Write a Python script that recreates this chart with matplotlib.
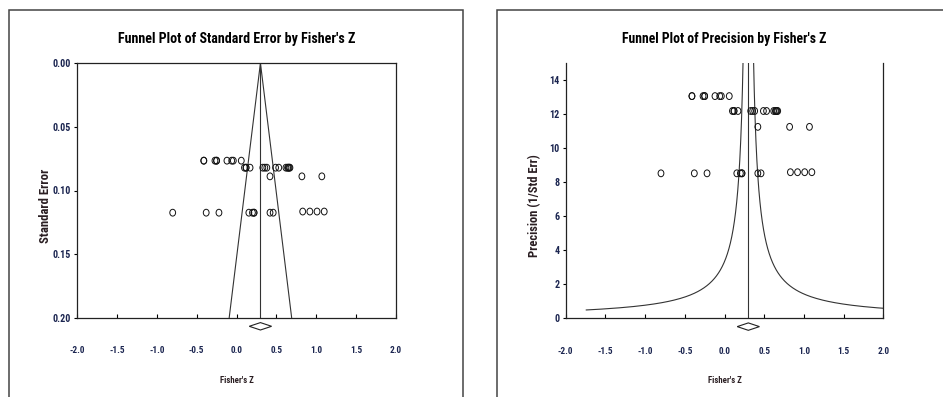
import numpy as np
import matplotlib
matplotlib.use("Agg")
import matplotlib.pyplot as plt
from matplotlib.patches import Rectangle, Polygon
from matplotlib.path import Path
from matplotlib.transforms import Affine2D
from matplotlib import font_manager

# study effects (Fisher's Z) and their standard errors
fisher_z = [-0.41, -0.41, -0.27, -0.25, -0.25, -0.12, -0.06, -0.04, 0.06,
            0.10, 0.12, 0.12, 0.17, 0.33, 0.355, 0.38, 0.49, 0.53, 0.62, 0.64, 0.65, 0.66, 0.67,
            0.42, 0.82, 1.07,
            -0.80, -0.38, -0.22, 0.155, 0.20, 0.22, 0.22, 0.42, 0.46,
            0.83, 0.92, 1.01, 1.10]
std_err = [0.0766] * 9 + [0.0821] * 14 + [0.0889] * 3 + [0.1174] * 9 + [0.1165] * 4
mean_z = 0.30
diamond_half = 0.14
curve_k = 1.0  # half width of precision funnel * precision

x_ticks = [-2.0, -1.5, -1.0, -0.5, 0.0, 0.5, 1.0, 1.5, 2.0]
x_labels = ['-2.0', '-1.5', '-1.0', '-0.5', '0.0', '0.5', '1.0', '1.5', '2.0']
se_ticks = [0.00, 0.05, 0.10, 0.15, 0.20]
se_labels = ['0.00', '0.05', '0.10', '0.15', '0.20']
prec_ticks = [0, 2, 4, 6, 8, 10, 12, 14]

titles = ["Funnel Plot of Standard Error by Fisher's Z", "Funnel Plot of Precision by Fisher's Z"]
ylabels = ['Standard Error', 'Precision (1/Std Err)']

# pick a narrow bold font if there is one
names = set(f.name for f in font_manager.fontManager.ttflist)
fam, stretch = 'Liberation Sans', 'normal'
for nm in ['Liberation Sans Narrow', 'Arial Narrow', 'Roboto Condensed', 'Open Sans Condensed', 'DejaVu Sans Condensed']:
    if nm in names:
        fam = nm
        break
else:
    if any(f.name == 'DejaVu Sans' and f.stretch == 'condensed' for f in font_manager.fontManager.ttflist):
        fam, stretch = 'DejaVu Sans', 'condensed'
plt.rcParams['font.family'] = [fam, 'DejaVu Sans']
plt.rcParams['font.stretch'] = stretch
plt.rcParams['axes.unicode_minus'] = False

tick_col = '#1b2550'
lab_col = '#2a1e22'
line_col = '#333333'

ell = Path.unit_circle().transformed(Affine2D().scale(0.85, 1.0))

fig = plt.figure(figsize=(9.43, 3.97), dpi=100)
W, H = 943.0, 397.0
renderer = fig.canvas.get_renderer()


def size_for(s, target_px, base=10.0):
    t = fig.text(0, 0, s, fontsize=base, fontweight='bold')
    w = t.get_window_extent(renderer).width
    t.remove()
    return base * target_px / w


title_sizes = [size_for(titles[0], 236), size_for(titles[1], 205)]
xt_size = size_for('-2.0', 15.5)
yt_size = size_for('0.00', 18)
yl_sizes = [size_for(ylabels[0], 74), size_for(ylabels[1], 103)]
xl_size = size_for("Fisher's Z", 34)

# panel borders
fig.patches.append(Rectangle((9 / W, -0.1), 454 / W, 1 - 10 / H + 0.1, transform=fig.transFigure,
                             fill=False, ec='#444444', lw=1.1))
fig.patches.append(Rectangle((497 / W, -0.1), 0.5, 1 - 10 / H + 0.1, transform=fig.transFigure,
                             fill=False, ec='#444444', lw=1.1))

ax1 = fig.add_axes([77 / W, 1 - 318 / H, 319 / W, 255 / H])
ax2 = fig.add_axes([565.7 / W, 1 - 318.3 / H, 317.6 / W, 255.3 / H])

z = np.array(fisher_z)
se = np.array(std_err)

# left: standard error funnel
se_line = np.array([0.0, 0.2])
ax1.plot(mean_z - 1.96 * se_line, se_line, color=line_col, lw=0.8)
ax1.plot(mean_z + 1.96 * se_line, se_line, color=line_col, lw=0.8)
ax1.axvline(mean_z, color=line_col, lw=0.8)
ax1.scatter(z, se, marker=ell, s=24, facecolors='none', edgecolors='#111111', linewidths=0.7, zorder=3)
ax1.set_xlim(-2, 2)
ax1.set_ylim(0.2, 0.0)
ax1.set_yticks(se_ticks)
ax1.set_yticklabels(se_labels)

# right: precision funnel
p = np.linspace(0.49, 15.5, 600)
ax2.plot(mean_z - curve_k / p, p, color=line_col, lw=0.8)
ax2.plot(mean_z + curve_k / p, p, color=line_col, lw=0.8)
ax2.axvline(mean_z, color=line_col, lw=0.8)
ax2.scatter(z, 1 / se, marker=ell, s=24, facecolors='none', edgecolors='#111111', linewidths=0.7, zorder=3)
ax2.set_xlim(-2, 2)
ax2.set_ylim(0, 15)
ax2.set_yticks(prec_ticks)
ax2.spines['top'].set_visible(False)

for i, ax in enumerate((ax1, ax2)):
    ax.text(0.5, 1 + 24 / 255.0, titles[i], transform=ax.transAxes, ha='center', va='center',
            fontsize=title_sizes[i], fontweight='bold', color='black')
    ax.set_ylabel(ylabels[i], fontsize=yl_sizes[i], fontweight='bold', color=lab_col)
    ax.yaxis.set_label_coords(-0.079, 0.44)
    ax.set_xticks(x_ticks)
    ax.set_xticklabels(x_labels)
    ax.tick_params(axis='x', direction='in', length=3, pad=20.5, labelsize=xt_size, labelcolor=tick_col, width=0.8)
    ax.tick_params(axis='y', direction='out', length=2, pad=2.5, labelsize=yt_size, labelcolor=tick_col, width=0.8)
    for lbl in ax.get_xticklabels() + ax.get_yticklabels():
        lbl.set_fontweight('bold')
    for s in ax.spines.values():
        s.set_linewidth(0.9)
        s.set_color('#222222')
    ax.set_xlabel("Fisher's Z", fontsize=xl_size, fontweight='bold', color=lab_col)
    ax.xaxis.set_label_coords(0.5, -0.227)
    # summary diamond below the axis
    dh = 3.7 / 255.0
    yc = -8.3 / 255.0
    tr = ax.get_xaxis_transform()
    ax.add_patch(Polygon([(mean_z - diamond_half, yc), (mean_z, yc + dh),
                          (mean_z + diamond_half, yc), (mean_z, yc - dh)],
                         closed=True, fill=False, ec='#222222', lw=0.8,
                         transform=tr, clip_on=False))

fig.savefig('out.png', dpi=100)
